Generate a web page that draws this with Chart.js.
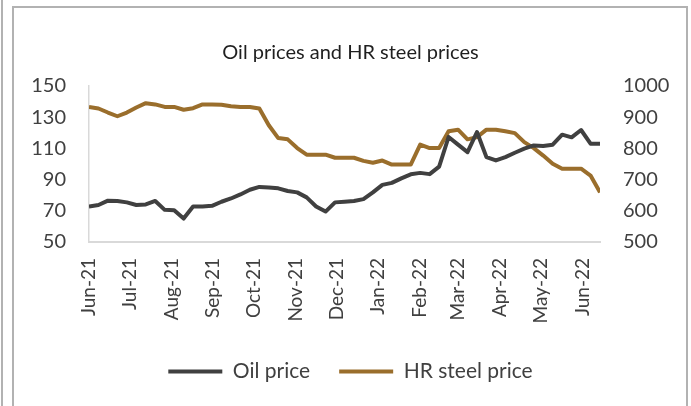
<!DOCTYPE html>
<html>
<head>
<meta charset="utf-8">
<script src="https://cdn.jsdelivr.net/npm/chart.js@4.4.1/dist/chart.umd.min.js"></script>
<style>
    html, body { margin: 0; padding: 0; background: #fff; }
    #wrap { position: relative; width: 691px; height: 406px; overflow: hidden; }
    #frame { position: absolute; left: 12px; top: 6px; width: 672px; height: 430px; border: 2px solid #b2b2b2; }
    #edge { position: absolute; left: 1px; top: 0; width: 2px; height: 406px; background: #b2b2b2; }
    #chart { position: absolute; left: 0; top: 0; }
</style>
</head>
<body>
<div id="wrap">
    <div id="edge"></div>
    <div id="frame"></div>
    <canvas id="chart" width="691" height="406"></canvas>
</div>
<script>
// weekly observations
const dates = [
    '2021-06-01', '2021-06-08', '2021-06-15', '2021-06-22', '2021-06-29',
    '2021-07-06', '2021-07-13', '2021-07-20', '2021-07-27', '2021-08-03',
    '2021-08-10', '2021-08-17', '2021-08-24', '2021-08-31', '2021-09-07',
    '2021-09-14', '2021-09-21', '2021-09-28', '2021-10-05', '2021-10-12',
    '2021-10-19', '2021-10-26', '2021-11-02', '2021-11-09', '2021-11-16',
    '2021-11-23', '2021-11-30', '2021-12-07', '2021-12-14', '2021-12-21',
    '2021-12-28', '2022-01-04', '2022-01-11', '2022-01-18', '2022-01-25',
    '2022-02-01', '2022-02-08', '2022-02-15', '2022-02-22', '2022-03-01',
    '2022-03-08', '2022-03-15', '2022-03-22', '2022-03-29', '2022-04-05',
    '2022-04-12', '2022-04-19', '2022-04-26', '2022-05-03', '2022-05-10',
    '2022-05-17', '2022-05-24', '2022-05-31', '2022-06-07', '2022-06-14'
];

const oilPrice = [
    72.8, 73.7, 76.5, 76.3, 75.4, 73.7, 74.1, 76.3, 70.6, 70.4,
    65.0, 72.8, 72.8, 73.2, 75.8, 77.9, 80.5, 83.5, 85.3, 85.0,
    84.4, 82.7, 81.8, 78.6, 72.8, 69.5, 75.4, 75.8, 76.3, 77.5,
    81.8, 86.6, 87.9, 90.8, 93.4, 94.3, 93.5, 98.3, 117.3, 112.4,
    107.6, 120.5, 104.4, 102.3, 104.4, 107.2, 109.8, 111.9, 111.5, 112.4,
    118.8, 117.1, 121.8, 113.0, 113.0
];

const steelPrice = [
    933, 928, 915, 903, 915, 931, 945, 941, 933, 933,
    924, 929, 941, 941, 940, 935, 933, 933, 928, 874,
    833, 829, 801, 780, 780, 780, 770, 770, 770, 760,
    754, 761, 748, 748, 748, 812, 801, 801, 855, 860,
    829, 836, 860, 860, 855, 849, 820, 801, 777, 751,
    735, 735, 735, 713, 659
];

const monthStarts = [
    '2021-06-01', '2021-07-01', '2021-08-01', '2021-09-01', '2021-10-01',
    '2021-11-01', '2021-12-01', '2022-01-01', '2022-02-01', '2022-03-01',
    '2022-04-01', '2022-05-01', '2022-06-01'
];
const monthLabels = [
    'Jun-21', 'Jul-21', 'Aug-21', 'Sep-21', 'Oct-21', 'Nov-21', 'Dec-21',
    'Jan-22', 'Feb-22', 'Mar-22', 'Apr-22', 'May-22', 'Jun-22'
];

const oilRange = [50, 150, 20];
const steelRange = [500, 1000, 100];

const DAY = 86400000;
const t0 = Date.parse(dates[0]);
const dayOf = d => Math.round((Date.parse(d) - t0) / DAY);
const monthPos = monthStarts.map(dayOf);

const fontFamily = 'Lato, "Open Sans", sans-serif';
const tickColor = '#404040';

const chartCtx = document.getElementById('chart').getContext('2d');

const chart = new Chart(chartCtx, {
    type: 'line',
    data: {
        datasets: [{
            label: 'Oil price',
            data: dates.map((d, i) => ({ x: dayOf(d), y: oilPrice[i] })),
            borderColor: '#404040',
            backgroundColor: '#404040',
            borderWidth: 4,
            pointRadius: 0,
            borderJoinStyle: 'round',
            yAxisID: 'y'
        }, {
            label: 'HR steel price',
            data: dates.map((d, i) => ({ x: dayOf(d), y: steelPrice[i] })),
            borderColor: '#9a6e2c',
            backgroundColor: '#9a6e2c',
            borderWidth: 4,
            pointRadius: 0,
            borderJoinStyle: 'round',
            yAxisID: 'y1'
        }]
    },
    options: {
        responsive: false,
        animation: false,
        layout: {
            padding: { left: 10, right: 0, top: 0, bottom: 14 }
        },
        plugins: {
            title: {
                display: true,
                text: 'Oil prices and HR steel prices',
                color: '#1f1f1f',
                font: { family: fontFamily, size: 20, weight: 'normal' },
                padding: { top: 41, bottom: 21 }
            },
            legend: {
                position: 'bottom',
                labels: {
                    boxWidth: 54,
                    boxHeight: 4,
                    padding: 29,
                    color: tickColor,
                    font: { family: fontFamily, size: 21 },
                    generateLabels: c => Chart.defaults.plugins.legend.labels.generateLabels(c)
                        .map(l => ({ ...l, lineWidth: 0, fillStyle: l.strokeStyle }))
                }
            },
            tooltip: { enabled: false }
        },
        scales: {
            x: {
                type: 'linear',
                min: 0,
                max: dayOf(dates[dates.length - 1]),
                grid: { display: false, drawTicks: false },
                border: { display: true, color: '#d9d9d9', width: 2 },
                afterBuildTicks: s => { s.ticks = monthPos.map(v => ({ value: v })); },
                afterFit: s => { s.height = 90; },
                ticks: {
                    autoSkip: false,
                    minRotation: 90,
                    maxRotation: 90,
                    padding: 16,
                    color: tickColor,
                    font: { family: fontFamily, size: 19 },
                    callback: v => monthLabels[monthPos.indexOf(v)]
                }
            },
            y: {
                position: 'left',
                min: oilRange[0],
                max: oilRange[1],
                grid: { display: false, drawTicks: false },
                border: { display: true, color: '#d9d9d9', width: 1.5 },
                afterFit: s => { s.width = 79; },
                ticks: {
                    stepSize: oilRange[2],
                    padding: 23,
                    color: tickColor,
                    font: { family: fontFamily, size: 20 },
                    callback: v => String(v)
                }
            },
            y1: {
                position: 'right',
                min: steelRange[0],
                max: steelRange[1],
                grid: { display: false, drawTicks: false },
                border: { display: false },
                afterFit: s => { s.width = 91; },
                ticks: {
                    stepSize: steelRange[2],
                    padding: 23,
                    color: tickColor,
                    font: { family: fontFamily, size: 20 },
                    callback: v => String(v)
                }
            }
        }
    }
});
</script>
</body>
</html>
